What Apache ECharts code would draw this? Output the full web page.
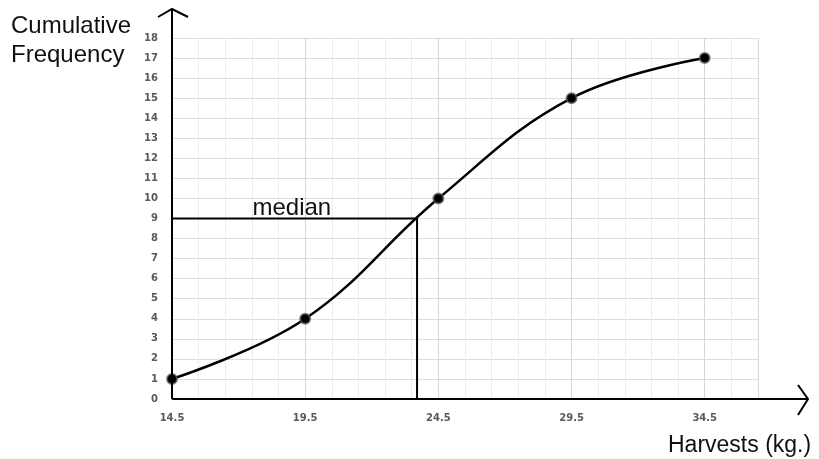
<!DOCTYPE html>
<html>
<head>
<meta charset="utf-8">
<script src="https://cdn.jsdelivr.net/npm/echarts@6/dist/echarts.min.js"></script>
<style>
html,body{margin:0;padding:0;background:#fff}
#main{width:819px;height:459px}
</style>
</head>
<body>
<div id="main"></div>
<script>
// data
var harvests = [14.5, 19.5, 24.5, 29.5, 34.5];
var cumFreq = [1, 4, 10, 15, 17];
var xTickLabels = ['14.5', '19.5', '24.5', '29.5', '34.5'];
var medianValue = 9;
var medianHarvest = 23.7;
var xStart = 14.5;   // first boundary on the axis
var xEnd = 36.5;     // last grid line

var myChart = echarts.init(document.getElementById("main"));

function shift(x){ return x - xStart }

var curve = []
for(var i=0;i<harvests.length;i++){
	curve.push([shift(harvests[i]), cumFreq[i]])
}
var medianLine = [[0, medianValue],[shift(medianHarvest), medianValue],[shift(medianHarvest), 0]]

option = {
	backgroundColor:'#fff',
	animation:false,
	grid:{left:172, right:61, top:38, bottom:60},
	xAxis:[
		{
			type:'value', min:0, max:shift(xEnd), interval:1,
			axisLine:{show:false}, axisTick:{show:false}, axisLabel:{show:false},
			splitLine:{lineStyle:{color:'#ececec', width:1}}
		},
		{
			type:'value', min:0, max:shift(xEnd), interval:5, position:'bottom',
			axisLine:{show:false}, axisTick:{show:false},
			axisLabel:{
				show:true, margin:14, fontSize:10, color:'#595959', fontWeight:'bold', fontFamily:'DejaVu Sans',
				formatter:function(v){ return xTickLabels[v/5] || '' }
			},
			splitLine:{lineStyle:{color:'#d6d6d6', width:1}}
		}
	],
	yAxis:{
		type:'value', min:0, max:18, interval:1,
		axisLine:{show:false}, axisTick:{show:false},
		axisLabel:{margin:14, fontSize:10, color:'#595959', fontWeight:'bold', fontFamily:'DejaVu Sans'},
		splitLine:{lineStyle:{color:'#dedede', width:1}}
	},
	series:[
		{
			type:'line', xAxisIndex:0, data:medianLine,
			symbol:'none', lineStyle:{color:'#000', width:2}, z:3
		},
		{
			type:'line', xAxisIndex:0, data:curve, smooth:0.4,
			symbol:'circle', symbolSize:10,
			itemStyle:{color:'#000', borderColor:'rgba(90,90,90,0.7)', borderWidth:2},
			lineStyle:{color:'#000', width:2.5}, z:4
		}
	]
};
myChart.setOption(option)

// axes with open arrows, titles
var o = myChart.convertToPixel({gridIndex:0}, [0, 0])
var med = myChart.convertToPixel({gridIndex:0}, [shift(19.0), medianValue])
var axisStyle = {stroke:'#000', lineWidth:2, fill:null}
var txt = {fill:'#111', fontSize:24, fontFamily:'Liberation Sans'}
myChart.setOption({
	graphic:[
		{type:'line', shape:{x1:o[0], y1:o[1], x2:807, y2:o[1]}, style:axisStyle, z:10},
		{type:'polyline', shape:{points:[[798,o[1]-14],[808,o[1]],[798,o[1]+16]]}, style:axisStyle, z:10},
		{type:'line', shape:{x1:o[0], y1:o[1], x2:o[0], y2:9}, style:axisStyle, z:10},
		{type:'polyline', shape:{points:[[o[0]-14,17],[o[0],9],[o[0]+16,17]]}, style:axisStyle, z:10},
		{type:'text', left:11, top:14, style:Object.assign({text:'Cumulative'}, txt)},
		{type:'text', left:11, top:43, style:Object.assign({text:'Frequency'}, txt)},
		{type:'text', left:668, top:434, style:Object.assign({text:'Harvests (kg.)'}, txt, {fontSize:23})},
		{type:'text', x:med[0], y:med[1]+2, style:Object.assign({text:'median', align:'center', verticalAlign:'bottom'}, txt), z:10}
	]
})
</script>
</body>
</html>
